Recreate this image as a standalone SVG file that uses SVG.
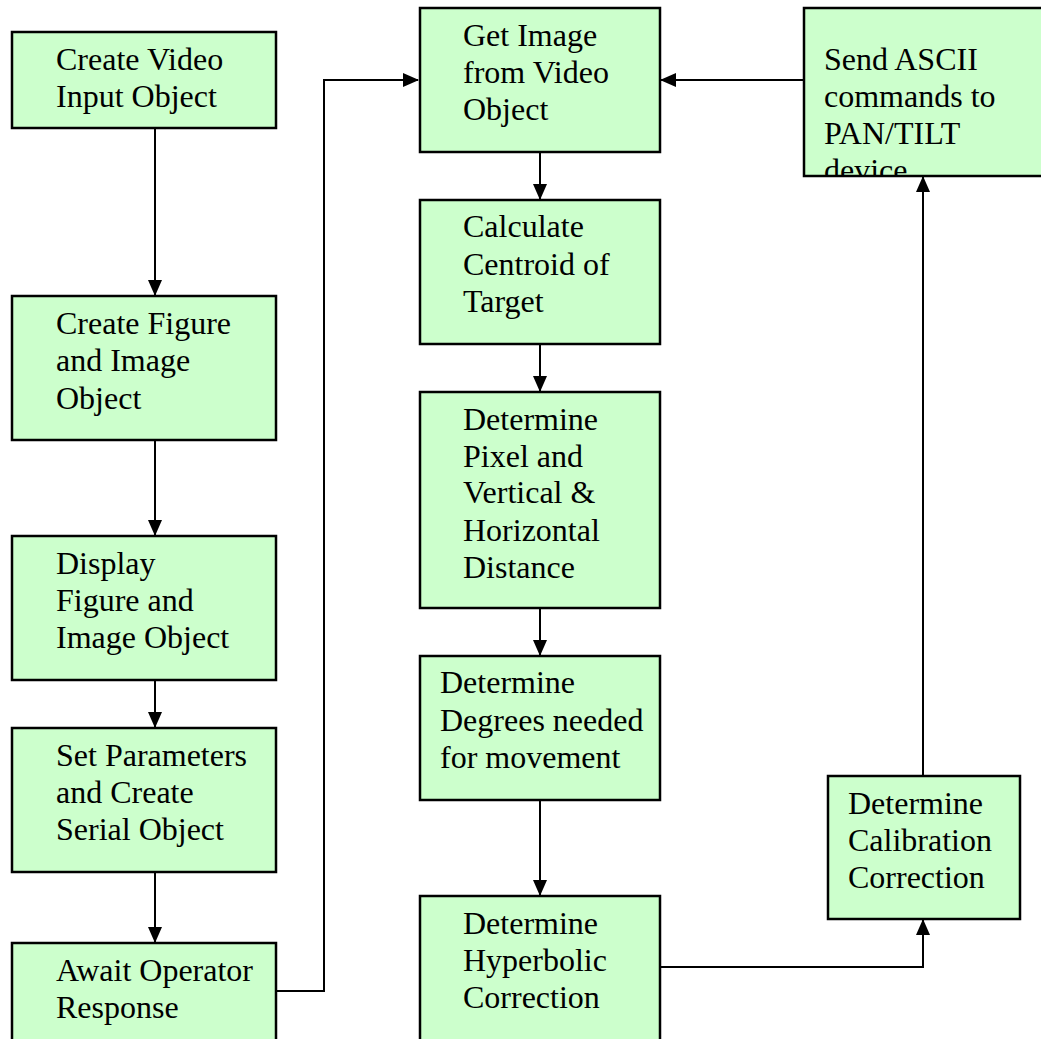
<svg xmlns="http://www.w3.org/2000/svg" width="1041" height="1039" viewBox="0 0 1041 1039">
<style>
.box{fill:#CCFFCC;stroke:#000;stroke-width:2.5}
.t{font-family:'Liberation Serif','Times New Roman',Times,'DejaVu Serif',serif;font-size:32px;fill:#000}
.c{fill:none;stroke:#000;stroke-width:2}
</style>
<defs>
<marker id="ah" markerWidth="16" markerHeight="16" refX="15" refY="8" orient="auto" markerUnits="userSpaceOnUse">
<path d="M0,1 L16,8 L0,15 Z" fill="#000"/>
</marker>
<clipPath id="clipSend"><rect x="805" y="9" width="240" height="166"/></clipPath>
</defs>
<rect width="1041" height="1039" fill="#fff"/>

<g id="connectors">
<line class="c" x1="155" y1="128" x2="155" y2="295" marker-end="url(#ah)"/>
<line class="c" x1="155" y1="440" x2="155" y2="535" marker-end="url(#ah)"/>
<line class="c" x1="155" y1="680" x2="155" y2="727" marker-end="url(#ah)"/>
<line class="c" x1="155" y1="872" x2="155" y2="942" marker-end="url(#ah)"/>
<polyline class="c" points="276,991 324,991 324,80 418,80" marker-end="url(#ah)"/>
<line class="c" x1="540" y1="152" x2="540" y2="199" marker-end="url(#ah)"/>
<line class="c" x1="540" y1="344" x2="540" y2="391" marker-end="url(#ah)"/>
<line class="c" x1="540" y1="608" x2="540" y2="655" marker-end="url(#ah)"/>
<line class="c" x1="540" y1="800" x2="540" y2="895" marker-end="url(#ah)"/>
<polyline class="c" points="660,967 923,967 923,920" marker-end="url(#ah)"/>
<line class="c" x1="923" y1="776" x2="923" y2="177" marker-end="url(#ah)"/>
<line class="c" x1="804" y1="80" x2="661" y2="80" marker-end="url(#ah)"/>
</g>

<g id="n1">
<rect class="box" x="12" y="32" width="264" height="96"/>
<text class="t" font-family="Liberation Serif" x="56" y="70">Create Video</text>
<text class="t" font-family="Liberation Serif" x="56" y="107">Input Object</text>
</g>
<g id="n2">
<rect class="box" x="12" y="296" width="264" height="144"/>
<text class="t" x="56" y="334">Create Figure</text>
<text class="t" x="56" y="371">and Image</text>
<text class="t" x="56" y="409">Object</text>
</g>
<g id="n3">
<rect class="box" x="12" y="536" width="264" height="144"/>
<text class="t" x="56" y="574">Display</text>
<text class="t" x="56" y="611">Figure and</text>
<text class="t" x="56" y="648">Image Object</text>
</g>
<g id="n4">
<rect class="box" x="12" y="728" width="264" height="144"/>
<text class="t" x="56" y="766">Set Parameters</text>
<text class="t" x="56" y="803">and Create</text>
<text class="t" x="56" y="840">Serial Object</text>
</g>
<g id="n5">
<rect class="box" x="12" y="943" width="264" height="110"/>
<text class="t" x="56" y="981">Await Operator</text>
<text class="t" x="56" y="1018">Response</text>
</g>

<g id="m1">
<rect class="box" x="420" y="8" width="240" height="144"/>
<text class="t" x="463" y="46">Get Image</text>
<text class="t" x="463" y="83">from Video</text>
<text class="t" x="463" y="120">Object</text>
</g>
<g id="m2">
<rect class="box" x="420" y="200" width="240" height="144"/>
<text class="t" x="463" y="237">Calculate</text>
<text class="t" x="463" y="275">Centroid of</text>
<text class="t" x="463" y="312">Target</text>
</g>
<g id="m3">
<rect class="box" x="420" y="392" width="240" height="216"/>
<text class="t" x="463" y="430">Determine</text>
<text class="t" x="463" y="467">Pixel and</text>
<text class="t" x="463" y="503">Vertical &amp;</text>
<text class="t" x="463" y="541">Horizontal</text>
<text class="t" x="463" y="578">Distance</text>
</g>
<g id="m4">
<rect class="box" x="420" y="656" width="240" height="144"/>
<text class="t" x="440" y="693">Determine</text>
<text class="t" x="440" y="731">Degrees needed</text>
<text class="t" x="440" y="768">for movement</text>
</g>
<g id="m5">
<rect class="box" x="420" y="896" width="240" height="160"/>
<text class="t" x="463" y="934">Determine</text>
<text class="t" x="463" y="971">Hyperbolic</text>
<text class="t" x="463" y="1008">Correction</text>
</g>

<g id="r1">
<rect class="box" x="804" y="8" width="250" height="168"/>
<g clip-path="url(#clipSend)">
<text class="t" x="824" y="70">Send ASCII</text>
<text class="t" x="824" y="107">commands to</text>
<text class="t" x="824" y="144">PAN/TILT</text>
<text class="t" x="824" y="181">device</text>
</g>
</g>
<g id="r2">
<rect class="box" x="828" y="776" width="192" height="143"/>
<text class="t" x="848" y="814">Determine</text>
<text class="t" x="848" y="851">Calibration</text>
<text class="t" x="848" y="888">Correction</text>
</g>
</svg>
